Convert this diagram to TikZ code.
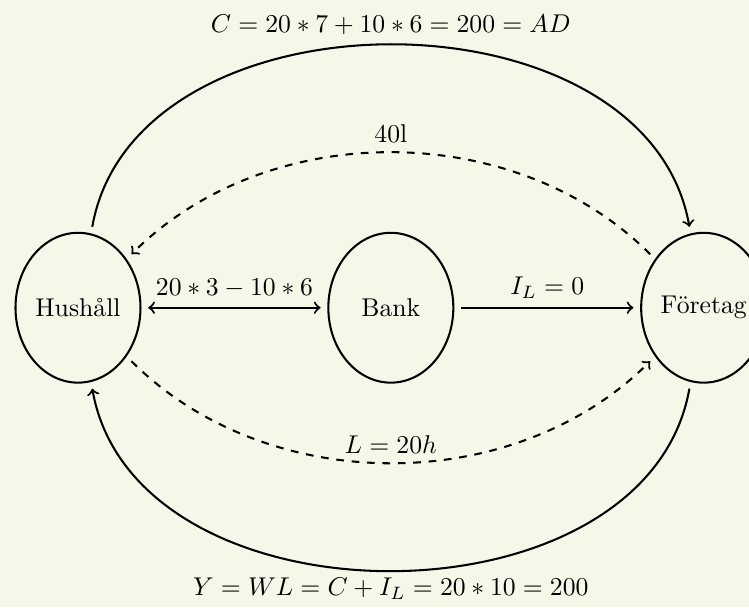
\documentclass[tikz,border=0pt]{standalone}
\usepackage{tikz}
\usetikzlibrary{shapes.geometric}
\definecolor{bgcream}{RGB}{247,247,233}

\begin{document}
\begin{tikzpicture}[>=to]
  \tikzstyle{sector}=[draw,thick,ellipse,inner sep=0pt,outer sep=3pt,minimum width=1.71cm,minimum height=2.05cm]
  \tikzstyle{flow}=[thick]

  \def\d{4.28}

  % background, also fixes the margins
  \path[use as bounding box,fill=bgcream] (-1.067,-4.10) rectangle (9.18,4.21);

  % sectors
  \node[sector] (hh)  at (0,0)     {Hushåll};
  \node[sector] (bank) at (\d,0)   {Bank};
  \node[sector] (ftg) at (2*\d,0)  {Företag};

  % straight flows through the bank
  \draw[flow,<->] (hh) -- node[midway,above] {$20*3-10*6$} (bank);
  \draw[flow,->]  (bank) -- node[midway,above] {$I_L=0$} (ftg);

  % outer loop: consumption and income
  \draw[flow,->] (hh) to[out=80,in=100,looseness=1.06] node[midway,above] {$C=20*7+10*6=200=AD$} (ftg);
  \draw[flow,->] (ftg) to[out=-100,in=-80,looseness=1.06] node[midway,below,inner sep=2.5pt] {$Y=WL=C+I_L=20*10=200$} (hh);

  % inner loop: goods and labour
  \draw[flow,->,dashed] (ftg) to[out=135,in=45,looseness=0.95] node[midway,above] {40l} (hh);
  \draw[flow,->,dashed] (hh) to[out=-45,in=-135,looseness=0.95] node[midway,above] {$L=20h$} (ftg);

\end{tikzpicture}
\end{document}
